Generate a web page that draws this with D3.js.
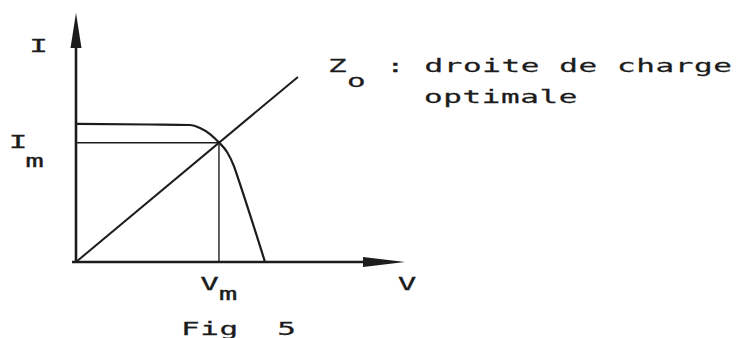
<!DOCTYPE html>
<html>
<head>
<meta charset="utf-8">
<script src="https://cdn.jsdelivr.net/npm/d3@7"></script>
<style>
  html, body { margin: 0; padding: 0; background: #ffffff; }
  svg { display: block; }
  text { font-family: "DejaVu Sans Mono", "Liberation Mono", monospace; fill: #1c1c1c; white-space: pre; }
</style>
</head>
<body>
<svg id="chart" width="737" height="338"></svg>
<script>
// Axis extents (arbitrary units)
const vAxisMax = 22;
const iAxisMax = 16.5;

// Solar cell I–V characteristic
const ivVoltage = [0, 4.95, 7.62, 8.29, 8.96, 9.56, 10.10, 10.56, 10.83, 12.64];
const ivCurrent = [9.15, 9.11, 9.08, 8.88, 8.48, 7.92, 7.29, 6.36, 5.57, 0];

// Maximum power point
const Vm = 9.56;
const Im = 7.9;

// Optimal load line Zo runs through the origin and the maximum power point
const loadVoltage = [0, 14.84];

// Text labels
const axisLabelI = "I";
const axisLabelV = "V";
const labelImMain = "I", labelImSub = "m";
const labelVmMain = "V", labelVmSub = "m";
const labelZMain = "Z", labelZSub = "o";
const legendLine1 = ": droite de charge";
const legendLine2 = "optimale";
const caption = "Fig  5";

const ink = "#1c1c1c";
const svg = d3.select("#chart");

const x = d3.scaleLinear().domain([0, vAxisMax]).range([76, 405]);
const y = d3.scaleLinear().domain([0, iAxisMax]).range([262, 13]);

// Wide plotter-style monospace lettering
const sx = 1.72, fontSize = 18, pitch = 19.25;
const spacing = pitch / sx - fontSize * 0.602;
function label(txt, px, py, anchor) {
  const g = svg.append("g").attr("transform", `translate(${px},${py}) scale(${sx},1)`);
  g.append("text")
    .attr("x", 0).attr("y", 0)
    .attr("xml:space", "preserve")
    .attr("font-size", fontSize)
    .attr("letter-spacing", spacing)
    .attr("stroke", "#1c1c1c").attr("stroke-width", 0.25)
    .attr("text-anchor", anchor || "start")
    .text(txt);
  return g;
}

// Axes
const [x0, x1] = x.range();
const [y0, y1] = y.range();
svg.append("line")
  .attr("x1", x0).attr("y1", y0 + 1).attr("x2", x0).attr("y2", y1 + 20)
  .attr("stroke", ink).attr("stroke-width", 2.6);
svg.append("line")
  .attr("x1", x0 - 4).attr("y1", y0).attr("x2", x1 - 20).attr("y2", y0)
  .attr("stroke", ink).attr("stroke-width", 2.6);
// Arrow heads
svg.append("path")
  .attr("d", `M${x0},${y1} L${x0 - 5.5},${y1 + 35} L${x0 + 5.5},${y1 + 35} Z`)
  .attr("fill", ink);
svg.append("path")
  .attr("d", `M${x1},${y0} L${x1 - 42},${y0 - 5} L${x1 - 42},${y0 + 5} Z`)
  .attr("fill", ink);

// Guides to the maximum power point
svg.append("line")
  .attr("x1", x(0)).attr("y1", y(Im)).attr("x2", x(Vm)).attr("y2", y(Im))
  .attr("stroke", ink).attr("stroke-width", 1.5);
svg.append("line")
  .attr("x1", x(Vm)).attr("y1", y(Im)).attr("x2", x(Vm)).attr("y2", y(0))
  .attr("stroke", ink).attr("stroke-width", 1.4);

// Load line
svg.append("path")
  .datum(loadVoltage)
  .attr("d", d3.line().x(v => x(v)).y(v => y(v * Im / Vm)))
  .attr("fill", "none").attr("stroke", ink).attr("stroke-width", 2);

// I–V curve
const ivPoints = ivVoltage.map((v, i) => [v, ivCurrent[i]]);
svg.append("path")
  .datum(ivPoints)
  .attr("d", d3.line().x(d => x(d[0])).y(d => y(d[1])).curve(d3.curveMonotoneX))
  .attr("fill", "none").attr("stroke", ink).attr("stroke-width", 2.2);

// Axis labels
label(axisLabelI, 39, 52, "middle");
label(axisLabelV, 407.5, 290, "middle");
label(labelImMain, 18.5, 148, "middle");
label(labelImSub, 35, 167, "middle");
label(labelVmMain, x(Vm) - 9, 290, "middle");
label(labelVmSub, x(Vm) + 9.5, 300, "middle");

// Load line annotation
label(labelZMain, 328, 72);
label(labelZSub, 347, 87);
label(legendLine1, 386, 72);
label(legendLine2, 424, 103);

// Caption
label(caption, 181, 335);
</script>
</body>
</html>
